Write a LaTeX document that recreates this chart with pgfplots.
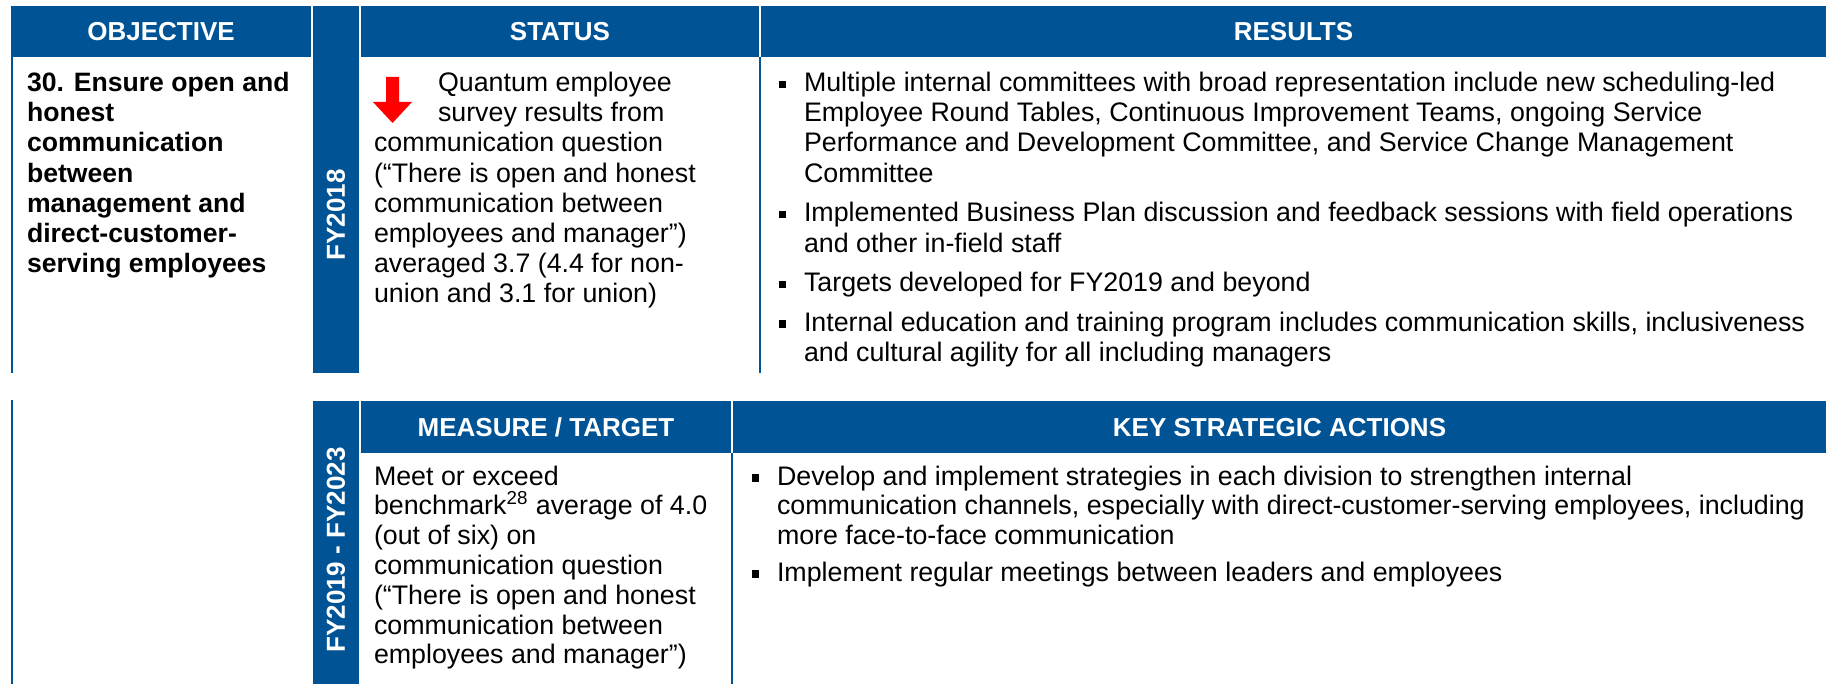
\documentclass[border=0pt]{standalone}
\usepackage{pgfplots}
\pgfplotsset{compat=1.18}
\usepackage{fontspec}
\setmainfont{Liberation Sans}
\definecolor{hdrblue}{RGB}{0,84,150}
\definecolor{arrowred}{RGB}{255,0,0}
\tikzset{
  txt/.style={anchor=base west, inner sep=0pt, outer sep=0pt, text=black, font=\fontsize{13.4pt}{15.4pt}\selectfont},
  btxt/.style={anchor=base west, inner sep=0pt, outer sep=0pt, text=black, font=\fontsize{13.3pt}{15.3pt}\selectfont\bfseries},
  hdr/.style={anchor=base, inner sep=0pt, outer sep=0pt, text=white, font=\fontsize{13pt}{15pt}\selectfont\bfseries},
  fy/.style={anchor=center, inner sep=0pt, outer sep=0pt, rotate=90, text=white, font=\fontsize{13pt}{15pt}\selectfont\bfseries},
}
\newcommand{\bul}{\rule[1.75pt]{3.7pt}{3.7pt}}
\begin{document}
\begin{tikzpicture}
\begin{axis}[width=917.5pt, height=342pt, scale only axis,
  xmin=0, xmax=1835, ymin=0, ymax=684, y dir=reverse,
  hide axis, clip=false]
% ---------- top block ----------
\fill[hdrblue] (11,6) rectangle (311,57);
\fill[hdrblue] (313,6) rectangle (359,373);
\fill[hdrblue] (361,6) rectangle (759,57);
\fill[hdrblue] (761,6) rectangle (1826,57);
\draw[hdrblue, line width=1pt] (12,57) -- (12,373);
\draw[hdrblue, line width=1pt] (760,57) -- (760,373);
\node[hdr] at (161,41) {OBJECTIVE};
\node[hdr] at (560,41) {STATUS};
\node[hdr] at (1293.5,41) {RESULTS};
\node[fy] at (336,215) {FY2018};
% objective
\node[btxt] at (27,91.5) {30. Ensure open and};
\node[btxt] at (27,121.7) {honest};
\node[btxt] at (27,151.9) {communication};
\node[btxt] at (27,182.1) {between};
\node[btxt] at (27,212.3) {management and};
\node[btxt] at (27,242.5) {direct-customer-};
\node[btxt] at (27,272.7) {serving employees};
% status arrow
\addplot[fill=arrowred, draw=none, mark=none, forget plot] coordinates
  {(386,77) (399,77) (399,102) (412,102) (392.5,123) (373,102) (386,102)} -- cycle;
% status text
\node[txt] at (438,91.5) {Quantum employee};
\node[txt] at (438,121.7) {survey results from};
\node[txt] at (374,151.9) {communication question};
\node[txt] at (374,182.1) {(“There is open and honest};
\node[txt] at (374,212.3) {communication between};
\node[txt] at (374,242.5) {employees and manager”)};
\node[txt] at (374,272.7) {averaged 3.7 (4.4 for non-};
\node[txt] at (374,302.9) {union and 3.1 for union)};
% results
\node[txt] at (779,91.5) {\bul};
\node[txt] at (804,91.5) {Multiple internal committees with broad representation include new scheduling-led};
\node[txt] at (804,121.7) {Employee Round Tables, Continuous Improvement Teams, ongoing Service};
\node[txt] at (804,151.9) {Performance and Development Committee, and Service Change Management};
\node[txt] at (804,182.1) {Committee};
\node[txt] at (779,222) {\bul};
\node[txt] at (804,222) {Implemented Business Plan discussion and feedback sessions with field operations};
\node[txt] at (804,252.2) {and other in-field staff};
\node[txt] at (779,292) {\bul};
\node[txt] at (804,292) {Targets developed for FY2019 and beyond};
\node[txt] at (779,331) {\bul};
\node[txt] at (804,331) {Internal education and training program includes communication skills, inclusiveness};
\node[txt] at (804,361.2) {and cultural agility for all including managers};
% ---------- bottom block ----------
\fill[hdrblue] (313,401) rectangle (359,684);
\fill[hdrblue] (361,401) rectangle (731,453);
\fill[hdrblue] (733,401) rectangle (1826,453);
\draw[hdrblue, line width=1pt] (12,400) -- (12,684);
\draw[hdrblue, line width=1pt] (732,453) -- (732,684);
\node[hdr] at (546,436.5) {MEASURE / TARGET};
\node[hdr] at (1279.5,436.5) {KEY STRATEGIC ACTIONS};
\node[fy] at (336,550) {FY2019 - FY2023};
% measure
\node[txt] at (374,485) {Meet or exceed};
\node[txt] at (374,514.8) {benchmark\textsuperscript{28} average of 4.0};
\node[txt] at (374,544.6) {(out of six) on};
\node[txt] at (374,574.4) {communication question};
\node[txt] at (374,604.2) {(“There is open and honest};
\node[txt] at (374,634) {communication between};
\node[txt] at (374,663.8) {employees and manager”)};
% key actions
\node[txt] at (752,485) {\bul};
\node[txt] at (777,485) {Develop and implement strategies in each division to strengthen internal};
\node[txt] at (777,514.8) {communication channels, especially with direct-customer-serving employees, including};
\node[txt] at (777,544.6) {more face-to-face communication};
\node[txt] at (752,581) {\bul};
\node[txt] at (777,581) {Implement regular meetings between leaders and employees};
\end{axis}
\pgfresetboundingbox
\path (current axis.south west) rectangle (current axis.north east);
\end{tikzpicture}
\end{document}
